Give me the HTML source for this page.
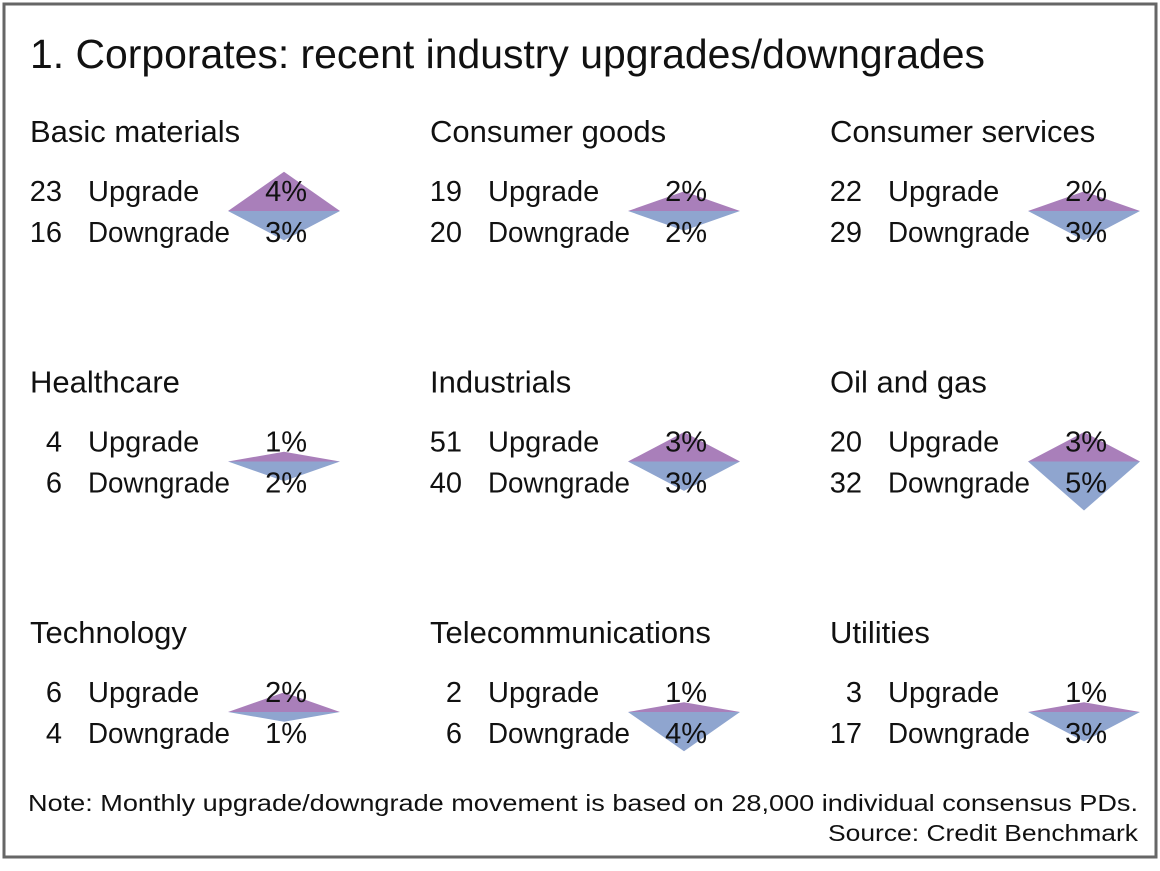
<!DOCTYPE html>
<html><head><meta charset="utf-8"><style>
html,body{margin:0;padding:0;background:#fff}
svg text{font-family:"Liberation Sans",sans-serif;fill:#111}
</style></head><body>
<svg width="1160" height="866" xmlns="http://www.w3.org/2000/svg">
<rect x="4" y="4" width="1152" height="853" fill="#fff" stroke="#666" stroke-width="3"/>
<text x="30" y="68" font-size="41" textLength="955" lengthAdjust="spacingAndGlyphs">1. Corporates: recent industry upgrades/downgrades</text>
<g id="panels"></g>
<text x="28" y="811" font-size="23" textLength="1110" lengthAdjust="spacingAndGlyphs">Note: Monthly upgrade/downgrade movement is based on 28,000 individual consensus PDs.</text>
<text x="828" y="841" font-size="23" textLength="310" lengthAdjust="spacingAndGlyphs">Source: Credit Benchmark</text>
</svg>
<script>
var d=[["Basic materials",23,16,4,3],["Consumer goods",19,20,2,2],["Consumer services",22,29,2,3],
["Healthcare",4,6,1,2],["Industrials",51,40,3,3],["Oil and gas",20,32,3,5],
["Technology",6,4,2,1],["Telecommunications",2,6,1,4],["Utilities",3,17,1,3]];
var g=document.getElementById("panels"),h="";
d.forEach(function(p,i){var ox=(i%3)*400,oy=Math.floor(i/3)*250.5;var by=211+oy,cx=284+ox;
h+='<polygon points="'+(cx-56)+','+by+' '+(cx+56)+','+by+' '+cx+','+(by-p[3]*9.8)+'" fill="#a97fba"/>';
h+='<polygon points="'+(cx-56)+','+by+' '+(cx+56)+','+by+' '+cx+','+(by+p[4]*9.8)+'" fill="#8fa5cf"/>';
h+='<text x="'+(30+ox)+'" y="'+(142+oy)+'" font-size="31">'+p[0]+'</text>';
h+='<text x="'+(62+ox)+'" y="'+(201+oy)+'" font-size="29" text-anchor="end">'+p[1]+'</text>';
h+='<text x="'+(88+ox)+'" y="'+(201+oy)+'" font-size="29">Upgrade</text>';
h+='<text x="'+(307+ox)+'" y="'+(201+oy)+'" font-size="29" text-anchor="end">'+p[3]+'%</text>';
h+='<text x="'+(62+ox)+'" y="'+(242+oy)+'" font-size="29" text-anchor="end">'+p[2]+'</text>';
h+='<text x="'+(88+ox)+'" y="'+(242+oy)+'" font-size="29" textLength="142" lengthAdjust="spacingAndGlyphs">Downgrade</text>';
h+='<text x="'+(307+ox)+'" y="'+(242+oy)+'" font-size="29" text-anchor="end">'+p[4]+'%</text>';});
g.innerHTML=h;
</script>
</body></html>
